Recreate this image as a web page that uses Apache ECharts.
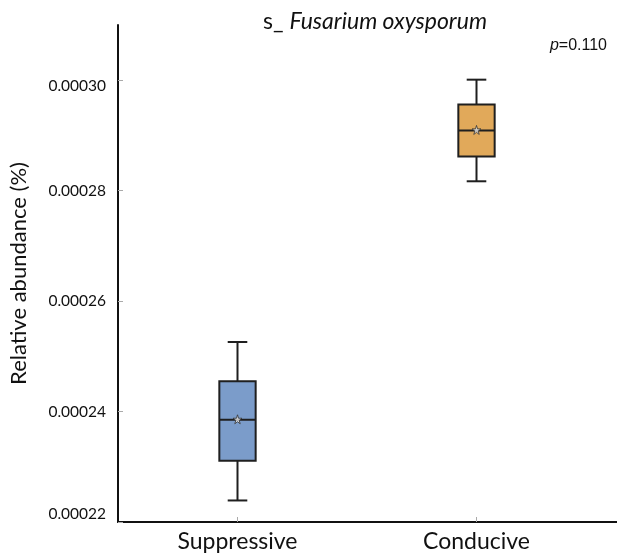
<!DOCTYPE html>
<html>
<head>
<meta charset="utf-8">
<title>s_ Fusarium oxysporum</title>
<script src="https://cdn.jsdelivr.net/npm/echarts@6/dist/echarts.min.js"></script>
<style>
  html, body { margin: 0; padding: 0; background: #ffffff; }
  #chart { width: 617px; height: 555px; }
</style>
</head>
<body>
<div id="chart"></div>
<script>
// Groups and their five-number summaries (relative abundance)
const categories = ['Suppressive', 'Conducive'];
const whiskerLow = [0.0002239, 0.0002817];
const lowerQuartile = [0.0002311, 0.0002862];
const medians = [0.0002385, 0.0002909];
const upperQuartile = [0.0002455, 0.0002956];
const whiskerHigh = [0.0002526, 0.0003001];
const means = [0.0002386, 0.0002910];
const boxColors = ['#7b9cca', '#e1a95a'];

// Y axis ticks
const yTicks = [0.00022, 0.00024, 0.00026, 0.00028, 0.00030];
const yMin = 0.00022;
const yMax = 0.00031;

const pValueText = '0.110';

const FONT = 'Lato, "Open Sans", sans-serif';

const boxData = categories.map((c, i) => [
  i, whiskerLow[i], lowerQuartile[i], medians[i], upperQuartile[i], whiskerHigh[i]
]);
const meanData = categories.map((c, i) => [i, means[i]]);

const STAR = 'path://M50,0 L61,35 L98,35 L68,57 L79,91 L50,70 L21,91 L32,57 L2,35 L39,35 Z';

function renderBox(params, api) {
  const x = api.value(0);
  const pLow = api.coord([x, api.value(1)]);
  const pQ1 = api.coord([x, api.value(2)]);
  const pMed = api.coord([x, api.value(3)]);
  const pQ3 = api.coord([x, api.value(4)]);
  const pHigh = api.coord([x, api.value(5)]);
  const band = api.size([1, 0])[0];
  const boxW = band * 0.152;
  const capW = band * 0.082;
  const cx = pMed[0];
  const stroke = { stroke: '#1f1f1f', lineWidth: 2 };
  return {
    type: 'group',
    children: [
      { type: 'line', shape: { x1: cx, y1: pHigh[1], x2: cx, y2: pQ3[1] }, style: stroke },
      { type: 'line', shape: { x1: cx, y1: pQ1[1], x2: cx, y2: pLow[1] }, style: stroke },
      { type: 'line', shape: { x1: cx - capW / 2, y1: pHigh[1], x2: cx + capW / 2, y2: pHigh[1] }, style: stroke },
      { type: 'line', shape: { x1: cx - capW / 2, y1: pLow[1], x2: cx + capW / 2, y2: pLow[1] }, style: stroke },
      {
        type: 'rect',
        shape: { x: cx - boxW / 2, y: pQ3[1], width: boxW, height: pQ1[1] - pQ3[1] },
        style: { fill: boxColors[params.dataIndex], stroke: '#1f1f1f', lineWidth: 2 }
      },
      { type: 'line', shape: { x1: cx - boxW / 2, y1: pMed[1], x2: cx + boxW / 2, y2: pMed[1] }, style: stroke }
    ]
  };
}

// Tick label text styles: the lowest label sits just above the x axis,
// the top one a little below its tick.
const labelRich = {
  base: { fontFamily: FONT, fontSize: 15.5, color: '#111' },
  up: { fontFamily: FONT, fontSize: 15.5, color: '#111', padding: [0, 0, 16, 0] },
  down: { fontFamily: FONT, fontSize: 15.5, color: '#111', padding: [12, 0, 0, 0] }
};

function yLabel(v) {
  const text = v.toFixed(5);
  if (Math.abs(v - yTicks[0]) < 1e-9) return '{up|' + text + '}';
  if (Math.abs(v - yTicks[yTicks.length - 1]) < 1e-9) return '{down|' + text + '}';
  return '{base|' + text + '}';
}

const chart = echarts.init(document.getElementById('chart'), null, { renderer: 'canvas' });

chart.setOption({
  backgroundColor: '#ffffff',
  animation: false,
  title: [
    {
      text: '{n|s_ }{i|Fusarium oxysporum}',
      left: 370,
      top: 5,
      textAlign: 'center',
      textStyle: {
        fontWeight: 'normal',
        rich: {
          n: { fontFamily: FONT, fontSize: 23, fontWeight: 'normal', color: '#111' },
          i: { fontFamily: FONT, fontSize: 23, fontWeight: 'normal', fontStyle: 'italic', color: '#111' }
        }
      }
    },
    {
      text: '{i|p}{n|=' + pValueText + '}',
      right: 5,
      top: 33,
      textStyle: {
        fontWeight: 'normal',
        rich: {
          i: { fontFamily: '"Liberation Sans", Arial, sans-serif', fontSize: 16, fontWeight: 'normal', fontStyle: 'italic', color: '#111' },
          n: { fontFamily: '"Liberation Sans", Arial, sans-serif', fontSize: 16, fontWeight: 'normal', color: '#111' }
        }
      }
    }
  ],
  grid: { left: 108, right: 21, top: 25, bottom: 33, containLabel: false },
  xAxis: {
    type: 'category',
    data: categories,
    boundaryGap: true,
    axisLine: { lineStyle: { color: '#111', width: 2 } },
    axisTick: { show: true, inside: true, alignWithLabel: true, length: 5, lineStyle: { color: '#aaa' } },
    axisLabel: { fontFamily: FONT, fontSize: 23, color: '#111', margin: 8 },
    splitLine: { show: false }
  },
  yAxis: {
    type: 'value',
    min: yMin,
    max: yMax,
    name: 'Relative abundance (%)',
    nameLocation: 'middle',
    nameGap: 88,
    nameRotate: 90,
    nameTextStyle: { fontFamily: FONT, fontSize: 22, color: '#111' },
    axisLine: { show: true, lineStyle: { color: '#111', width: 2 } },
    axisTick: { show: true, inside: true, length: 5, customValues: yTicks, lineStyle: { color: '#aaa' } },
    axisLabel: {
      fontFamily: FONT,
      fontSize: 15.5,
      color: '#111',
      margin: 12,
      customValues: yTicks,
      formatter: yLabel,
      rich: labelRich
    },
    splitLine: { show: false }
  },
  graphic: [
    {
      type: 'line',
      shape: { x1: 595, y1: 522, x2: 617, y2: 522 },
      style: { stroke: '#111', lineWidth: 2 }
    }
  ],
  series: [
    {
      type: 'custom',
      name: 'box',
      renderItem: renderBox,
      encode: { x: 0, y: [1, 2, 3, 4, 5] },
      data: boxData,
      z: 2
    },
    {
      type: 'scatter',
      name: 'mean',
      data: meanData,
      symbol: STAR,
      symbolSize: 9,
      itemStyle: { color: '#e8e8e8', borderColor: '#333', borderWidth: 1 },
      z: 3
    }
  ]
});
</script>
</body>
</html>
